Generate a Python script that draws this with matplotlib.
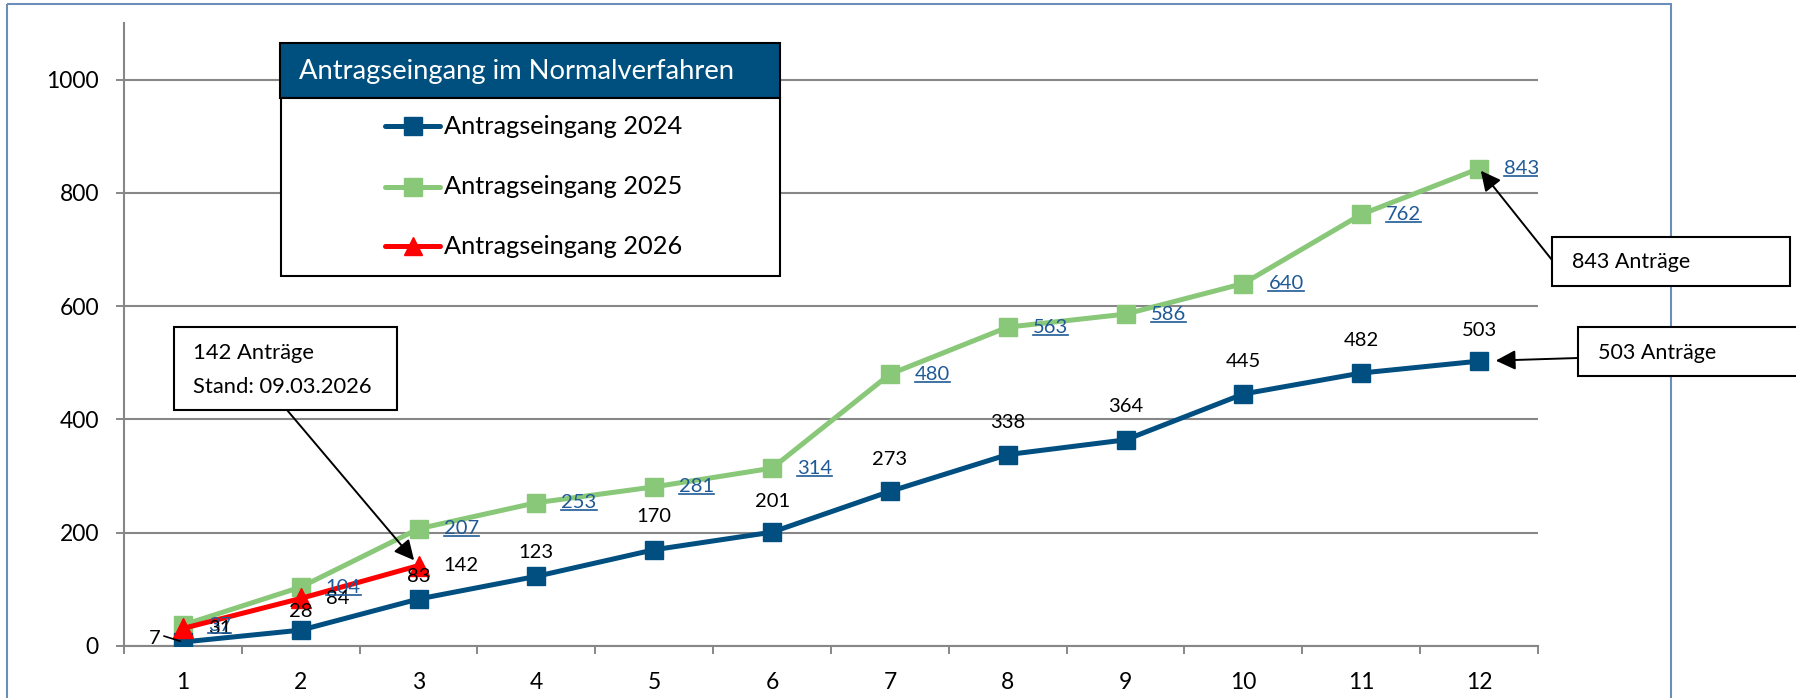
import matplotlib
matplotlib.use('Agg')
import matplotlib.pyplot as plt
from matplotlib.lines import Line2D
from matplotlib.patches import Rectangle

plt.rcParams['font.family'] = ['Lato', 'DejaVu Sans']

# Daten (Antragseingang kumuliert je Monat)
months = [1, 2, 3, 4, 5, 6, 7, 8, 9, 10, 11, 12]
eingang_2024 = [7, 28, 83, 123, 170, 201, 273, 338, 364, 445, 482, 503]
eingang_2025 = [37, 104, 207, 253, 281, 314, 480, 563, 586, 640, 762, 843]
eingang_2026 = [31, 84, 142]
series_names = ['Antragseingang 2024', 'Antragseingang 2025', 'Antragseingang 2026']
legend_title = 'Antragseingang im Normalverfahren'
y_ticks = [0, 200, 400, 600, 800, 1000]

c24 = '#004F80'
c25 = '#88C878'
c26 = '#FF0000'
grid_c = '#878787'
link_c = '#1F5A96'

W, H = 1796, 698
fig = plt.figure(figsize=(W / 100, H / 100), dpi=100)
ax = fig.add_axes([124 / W, 1 - 646 / H, (1538 - 124) / W, (646 - 23) / H])

ax.plot(months, eingang_2024, color=c24, lw=3.6, marker='s', ms=12.5, zorder=4)
ax.plot(months, eingang_2025, color=c25, lw=3.6, marker='s', ms=12.5, zorder=3)
ax.plot(months[:len(eingang_2026)], eingang_2026, color=c26, lw=3.6,
        marker='^', ms=14, zorder=5)

ax.set_xlim(0.5, 12.5)
ax.set_ylim(0, 1100)
ax.set_yticks(y_ticks)
ax.set_xticks(months)
ax.set_xticks([m + 0.5 for m in [0] + months], minor=True)
ax.tick_params(axis='x', which='major', length=0, pad=19, labelsize=16.5)
ax.tick_params(axis='x', which='minor', length=6, width=1.4, color=grid_c)
ax.tick_params(axis='y', length=6, width=1.4, color=grid_c, pad=12, labelsize=16.5)
ax.grid(axis='y', color=grid_c, lw=1.5)
ax.set_axisbelow(True)
for s in ['top', 'right']:
    ax.spines[s].set_visible(False)
for s in ['left', 'bottom']:
    ax.spines[s].set_color(grid_c)
    ax.spines[s].set_linewidth(1.5)

# Datenbeschriftungen
fs_lab = 14.5
dy_2024 = [0, 19, 22, 24, 33, 31, 32, 32, 33, 32, 33, 31]
for i, (m, v) in enumerate(zip(months, eingang_2024)):
    if i == 0:
        ax.annotate(str(v), (m, v), xytext=(-22, 4), textcoords='offset pixels',
                    ha='right', va='center', fontsize=fs_lab, zorder=6)
        # kurze Führungslinie
        ax.annotate('', (m, v), xytext=(-19, 6), textcoords='offset pixels',
                    arrowprops=dict(arrowstyle='-', color='black', lw=1.2,
                                    shrinkA=0, shrinkB=2), zorder=6)
    else:
        ax.annotate(str(v), (m, v), xytext=(0, dy_2024[i]), textcoords='offset pixels',
                    ha='center', va='center', fontsize=fs_lab, zorder=6)
links = []
for m, v in zip(months, eingang_2025):
    t = ax.annotate(str(v), (m, v), xytext=(25, 0), textcoords='offset pixels',
                    ha='left', va='center', fontsize=fs_lab, color=link_c, zorder=6)
    links.append(t)
for m, v in zip(months, eingang_2026):
    ax.annotate(str(v), (m, v), xytext=(25, 0), textcoords='offset pixels',
                ha='left', va='center', fontsize=fs_lab, zorder=6)

# Overlay in Pixelkoordinaten
ov = fig.add_axes([0, 0, 1, 1], zorder=10)
ov.set_xlim(0, W)
ov.set_ylim(H, 0)
ov.axis('off')
ov.patch.set_visible(False)

ov.add_patch(Rectangle((7, 4), 1664, 720, fill=False, edgecolor='#6C8EBA', lw=1.5))

# Legende
ov.add_patch(Rectangle((280, 43), 500, 55, facecolor='#00507F', edgecolor='black', lw=1.5))
ov.add_patch(Rectangle((281, 98), 499, 178, facecolor='white', edgecolor='black', lw=1.5))
ov.text(299, 71, legend_title, color='white', fontsize=19.7, va='center', ha='left')
for yy, name, col, mk, ms in zip([126, 187, 246], series_names, [c24, c25, c26],
                                 ['s', 's', '^'], [12.5, 12.5, 13]):
    ov.add_line(Line2D([385, 440], [yy, yy], color=col, lw=3.6, solid_capstyle='round'))
    ov.plot([412.5], [yy], marker=mk, ms=ms, color=col)
    ov.text(444, yy, name, fontsize=18.3, va='center', ha='left')

# Hinweisboxen
ov.add_patch(Rectangle((174, 327), 223, 83, facecolor='white', edgecolor='black', lw=1.5, zorder=3))
ov.text(193, 353, '142 Anträge', fontsize=15.8, va='center', zorder=4)
ov.text(193, 387, 'Stand: 09.03.2026', fontsize=15.8, va='center', zorder=4)
ov.add_patch(Rectangle((1552, 237), 238, 49, facecolor='white', edgecolor='black', lw=1.5, zorder=3))
ov.text(1572, 262, '843 Anträge', fontsize=15.5, va='center', zorder=4)
ov.add_patch(Rectangle((1578, 327), 240, 49, facecolor='white', edgecolor='black', lw=1.5, zorder=3))
ov.text(1598, 353, '503 Anträge', fontsize=15.5, va='center', zorder=4)

arrow = dict(arrowstyle='-|>', color='black', lw=1.4, mutation_scale=30, shrinkA=0)
ax.annotate('', xy=(3, eingang_2026[2]), xytext=(287, H - 410), textcoords='figure pixels',
            arrowprops=dict(arrow, shrinkB=5), zorder=7)
ax.annotate('', xy=(12, eingang_2025[11]), xytext=(1552, H - 260), textcoords='figure pixels',
            arrowprops=dict(arrow, shrinkB=2), zorder=7)
ax.annotate('', xy=(12, eingang_2024[11]), xytext=(1578, H - 358), textcoords='figure pixels',
            arrowprops=dict(arrow, shrinkB=12), zorder=7)

# Unterstreichung der 2025-Werte
fig.canvas.draw()
r = fig.canvas.get_renderer()
for t in links:
    bb = t.get_window_extent(r)
    yl = bb.y0 + 1
    ax.add_artist(Line2D([bb.x0, bb.x1], [yl, yl], transform=None,
                         color=link_c, lw=1.2, zorder=6))

fig.savefig('out.png', dpi=100, facecolor='white')
